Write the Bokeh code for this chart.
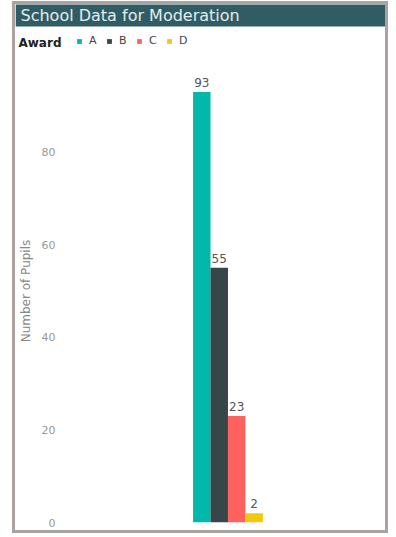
from bokeh.plotting import figure
from bokeh.models import ColumnDataSource, Range1d, Legend, LegendItem, FixedTicker, LabelSet, Label, BoxAnnotation
from bokeh.layouts import column
from bokeh.core.properties import value
from bokeh.embed import file_html
from bokeh.resources import INLINE

title_text = "School Data for Moderation"
legend_title = "Award"
awards = ["A", "B", "C", "D"]
pupils = [93, 55, 23, 2]
colors = ["#01B8AA", "#374649", "#FD625E", "#F2C80F"]
y_ticks = [0, 20, 40, 60, 80]
y_label = "Number of Pupils"

FONT = "DejaVu Sans"
BAR = "#305c64"

src = ColumnDataSource(dict(x=list(range(len(awards))), award=awards,
                            pupils=pupils, color=colors,
                            lbl=[str(v) for v in pupils]))

# ---- header (title bar + legend row) ----
hdr = figure(width=370, height=48, x_range=Range1d(0, 370), y_range=Range1d(0, 48),
             output_backend="svg", toolbar_location=None,
             x_axis_location=None, y_axis_location=None,
             min_border=0, outline_line_color=None,
             background_fill_color="white", border_fill_color="white")
hdr.grid.visible = False
hdr.add_layout(BoxAnnotation(bottom=26, top=49, left=0, right=370,
                             fill_color=BAR, fill_alpha=1, line_color=None))
hdr.add_layout(Label(x=5, y=37, text=title_text, text_color="#e4ecee",
                     text_font=FONT, text_font_size="16px", text_baseline="middle"))
hdr.add_layout(Label(x=3, y=10, text=legend_title, text_color="#222222",
                     text_font=FONT, text_font_size="12px", text_font_style="bold",
                     text_baseline="middle"))
proxy = hdr.vbar(x="x", top="pupils", width=1.0, fill_color="color", line_color=None,
                 source=src, visible=False)
items = [LegendItem(label=a, renderers=[proxy], index=i) for i, a in enumerate(awards)]
leg = Legend(items=items, orientation="horizontal", location=(61, 5),
             glyph_width=6, glyph_height=6, label_height=10, label_width=8,
             label_standoff=7, spacing=9, padding=0, margin=0, border_line_color=None,
             background_fill_alpha=0, inactive_fill_alpha=0, label_text_font=FONT,
             label_text_font_size="11px", label_text_color="#444444")
hdr.add_layout(leg, "center")

# ---- main chart ----
p = figure(width=370, height=478, x_range=Range1d(-8.1, 10.53), y_range=Range1d(0, 100),
           output_backend="svg", toolbar_location=None, x_axis_location=None,
           min_border_left=44, min_border_right=0, min_border_top=7, min_border_bottom=8,
           outline_line_color=None, background_fill_color="white", border_fill_color="white")
p.vbar(x="x", top="pupils", width=1.0, fill_color="color", line_color=None, source=src)
p.add_layout(LabelSet(x="x", y="pupils", text="lbl", source=src, text_align="center",
                      text_baseline="bottom", y_offset=5, text_font=value(FONT),
                      text_font_size="12px", text_color="#555555"))
p.grid.visible = False
ax = p.yaxis[0]
ax.ticker = FixedTicker(ticks=y_ticks)
ax.axis_line_color = None
ax.major_tick_line_color = None
ax.minor_tick_line_color = None
ax.major_tick_out = 0
ax.major_label_standoff = 5
ax.major_label_text_font = FONT
ax.major_label_text_font_size = "11px"
ax.major_label_text_color = "#999999"
ax.axis_label = y_label
ax.axis_label_standoff = 6
ax.axis_label_text_font = FONT
ax.axis_label_text_font_size = "12px"
ax.axis_label_text_font_style = "normal"
ax.axis_label_text_color = "#888888"

layout = column(column(hdr), p, spacing=0, margin=(1, 0, 0, 12),
                styles={"border": "3px solid #aca3a1", "box-sizing": "content-box"})

open("out.html", "w").write(file_html(layout, INLINE))
